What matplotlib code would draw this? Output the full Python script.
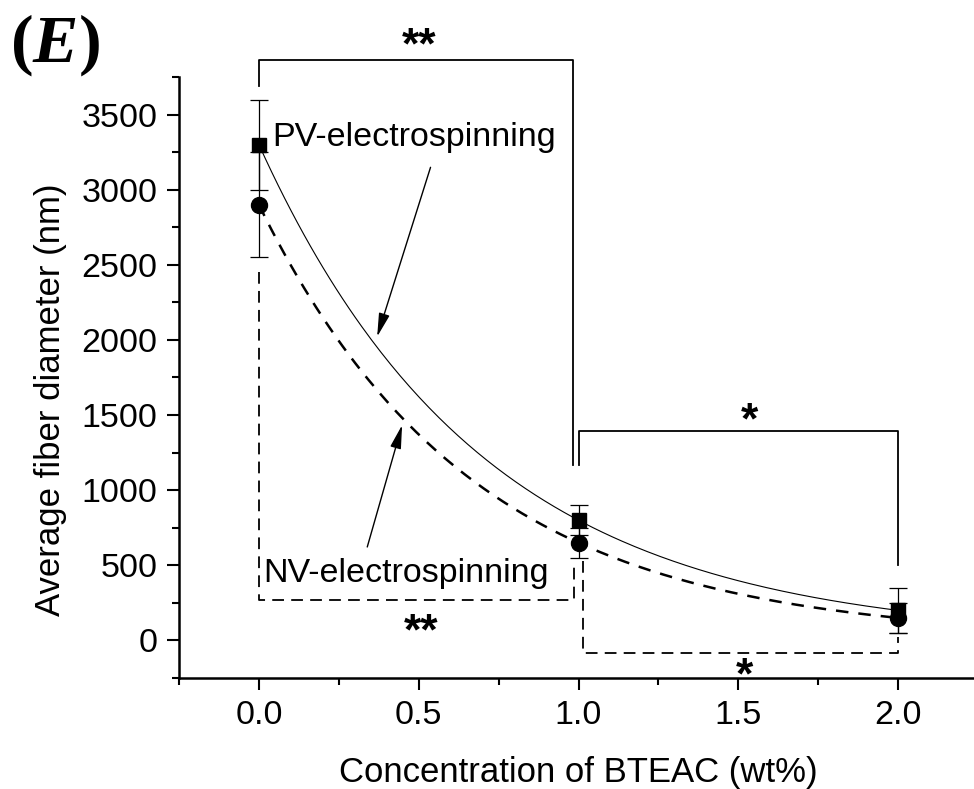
import numpy as np
import matplotlib
matplotlib.use("Agg")
import matplotlib.pyplot as plt
from matplotlib.ticker import MultipleLocator, FormatStrFormatter

plt.rcParams['font.family'] = ['Liberation Sans', 'DejaVu Sans']
plt.rcParams['mathtext.fontset'] = 'custom'
plt.rcParams['mathtext.rm'] = 'Liberation Serif:bold'
plt.rcParams['mathtext.it'] = 'Liberation Serif:bold:italic'

# BTEAC concentration (wt%) and mean fiber diameter (nm) with error bars
conc = [0.0, 1.0, 2.0]
pv_diam = [3300, 800, 200]
pv_err = [300, 100, 150]
nv_diam = [2900, 650, 150]
nv_err = [350, 100, 100]


def exp_fit(y):
    # y = a * r**x + c through three equally spaced points
    r = (y[1] - y[2]) / (y[0] - y[1])
    a = (y[0] - y[1]) / (1 - r)
    return a, r, y[0] - a


fig = plt.figure(figsize=(9.74, 7.89), dpi=100)
ax = fig.add_axes([0.1838, 0.1407, 0.8203, 0.7617])

xs = np.linspace(0, 2, 200)
a, r, c = exp_fit(pv_diam)
ax.plot(xs, a * r ** xs + c, color='black', lw=0.8)
a, r, c = exp_fit(nv_diam)
ax.plot(xs, a * r ** xs + c, color='black', lw=1.8, linestyle=(0, (5, 4)))

ax.errorbar(conc, pv_diam, yerr=pv_err, fmt='none', ecolor='black',
            elinewidth=0.9, capsize=6.5, capthick=0.9)
ax.errorbar(conc, nv_diam, yerr=nv_err, fmt='none', ecolor='black',
            elinewidth=0.9, capsize=6.5, capthick=0.9)
ax.plot(conc, nv_diam, 'o', color='black', ms=11.5)
ax.plot(conc, pv_diam, 's', color='black', ms=10)

# significance brackets
solid = dict(color='black', lw=1.3, clip_on=False)
dash = dict(color='black', lw=1.3, linestyle=(0, (6.5, 4)), clip_on=False)
ax.plot([0, 0, 0.982, 0.982], [3690, 3862, 3862, 1165], **solid)
ax.plot([1.0, 1.0, 2.0, 2.0], [1170, 1393, 1393, 505], **solid)
ax.plot([0, 0, 0.986, 0.986], [2450, 268, 268, 525], **dash)
ax.plot([1.013, 1.013, 2.0, 2.0], [530, -85, -85, 20], **dash)

star = dict(ha='center', va='center', fontsize=32, fontweight='bold')
ax.text(0.5, 3949, '**', clip_on=False, **star)
ax.text(1.536, 1455, '*', **star)
ax.text(0.507, 49, '**', **star)
ax.text(1.52, -245, '*', clip_on=False, **star)

ax.text(0.042, 3290, 'PV-electrospinning', fontsize=24.5, va='baseline')
ax.text(0.015, 389, 'NV-electrospinning', fontsize=24.5, va='baseline')

arrow = dict(arrowstyle='-|>,head_length=0.6,head_width=0.14',
             color='black', lw=1, shrinkA=0, shrinkB=0, mutation_scale=24)
ax.annotate('', xy=(0.370, 2022), xytext=(0.537, 3149), arrowprops=arrow)
ax.annotate('', xy=(0.448, 1433), xytext=(0.339, 622), arrowprops=arrow)

ax.set_xlim(-0.25, 2.25)
ax.set_ylim(-250, 3750)
ax.xaxis.set_major_locator(MultipleLocator(0.5))
ax.xaxis.set_minor_locator(MultipleLocator(0.25))
ax.xaxis.set_major_formatter(FormatStrFormatter('%.1f'))
ax.yaxis.set_major_locator(MultipleLocator(500))
ax.yaxis.set_minor_locator(MultipleLocator(250))

for side in ['top', 'right']:
    ax.spines[side].set_visible(False)
for side in ['left', 'bottom']:
    ax.spines[side].set_linewidth(1.8)
ax.tick_params(which='major', direction='out', length=8.5, width=1.5,
               labelsize=24.5, pad=7)
ax.tick_params(which='minor', direction='out', length=5, width=1.5)

ax.set_xlabel('Concentration of BTEAC (wt%)', fontsize=25, labelpad=18)
ax.set_ylabel('Average fiber diameter (nm)', fontsize=25)
ax.yaxis.set_label_coords(-0.14, 0.463)

fig.text(0.056, 0.943, r'$(E)$', fontsize=49, ha='center', va='center')

fig.savefig('out.png', dpi=100)
